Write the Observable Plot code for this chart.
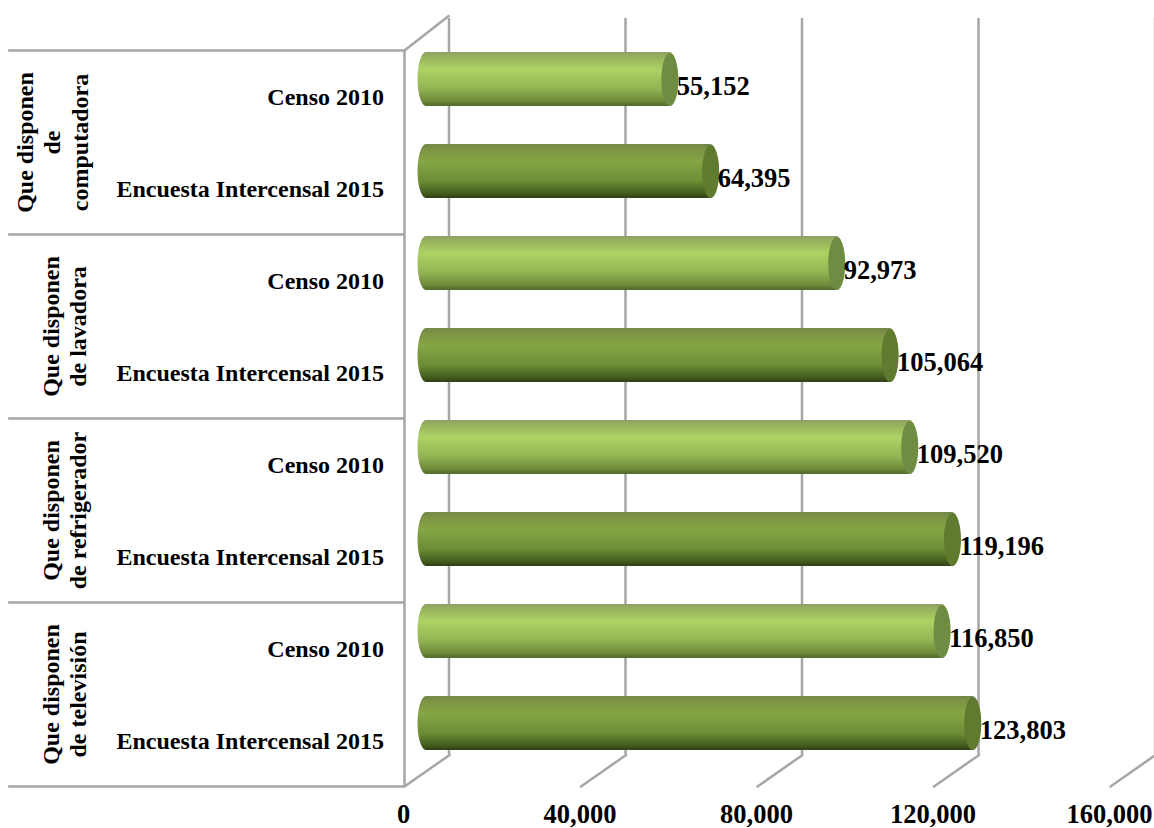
<!DOCTYPE html>
<html>
<head>
<meta charset="utf-8">
<script src="https://cdn.jsdelivr.net/npm/d3@7"></script>
<script src="https://cdn.jsdelivr.net/npm/@observablehq/plot@0.6"></script>
<style>html,body{margin:0;padding:0;background:#fff}svg{display:block}</style>
</head>
<body>
<script>
const groups = ["Que disponen\nde\ncomputadora", "Que disponen\nde lavadora", "Que disponen\nde refrigerador", "Que disponen\nde televisión"];
const seriesNames = ["Censo 2010", "Encuesta Intercensal 2015"];
const censo = [55152, 92973, 109520, 116850];
const encuesta = [64395, 105064, 119196, 123803];
const xTicks = [0, 40000, 80000, 120000, 160000];
const groupLabelOffsets = [51, 63, 63, 63];

const rows = groups.flatMap((g, i) => [
  {row: `${i}-0`, group: g, series: seriesNames[0], value: censo[i], kind: 0},
  {row: `${i}-1`, group: g, series: seriesNames[1], value: encuesta[i], kind: 1}
]);
const groupRows = rows.filter(d => d.kind === 0);

const font = {fontFamily: "'Liberation Serif','Times New Roman',serif", fontWeight: "bold", fill: "#000"};
const line = {draw(c, l) { c.moveTo(0, 0); c.lineTo(0, -l); }};
const grey = "#a6a6a6";
const depthX = 22, depthY = -17;

function ellipseSymbol(rx, ry) {
  const k = 0.5523;
  return {draw(c) {
    c.moveTo(-rx, 0);
    c.bezierCurveTo(-rx, -ry * k, -rx * k, -ry, 0, -ry);
    c.bezierCurveTo(rx * k, -ry, rx, -ry * k, rx, 0);
    c.bezierCurveTo(rx, ry * k, rx * k, ry, 0, ry);
    c.bezierCurveTo(-rx * k, ry, -rx, ry * k, -rx, 0);
    c.closePath();
  }};
}

function gradient(defs, id, stops) {
  const g = defs.append("linearGradient").attr("id", id)
    .attr("x1", 0).attr("y1", 0).attr("x2", 0).attr("y2", 1);
  stops.forEach(([o, col]) => g.append("stop").attr("offset", o).attr("stop-color", col));
}
const defsMark = () => {
  const defs = d3.create("svg:defs");
  gradient(defs, "light", [[0, "#8f9f68"], [0.06, "#93ad5c"], [0.32, "#aed264"], [0.68, "#93b353"], [0.9, "#6f8a3a"], [1, "#55682e"]]);
  gradient(defs, "dark", [[0, "#74844f"], [0.06, "#7a9145"], [0.32, "#86a545"], [0.68, "#6f8e36"], [0.9, "#46601f"], [1, "#2f3f16"]]);
  return defs.node();
};

const barOpts = {
  x1: () => 0, x2: "value", y: "row", dx: depthX, dy: depthY,
  insetLeft: -8.5, insetRight: -8.5, rx: 8.5, ry: 27
};

const chart = Plot.plot({
  width: 1154, height: 828,
  marginLeft: 404, marginRight: 44, marginTop: 50, marginBottom: 42,
  style: {background: "#fff", overflow: "visible"},
  x: {domain: [0, 160000]},
  y: {type: "band", domain: rows.map(d => d.row), paddingInner: 0.413, paddingOuter: 0.2065, axis: null},
  marks: [
    defsMark,
    Plot.ruleX(xTicks, {dx: 44.5, dy: -32, stroke: grey, strokeWidth: 2.5}),
    Plot.vector(xTicks, {x: d => d, frameAnchor: "bottom", anchor: "start", rotate: 55, length: 55, shape: line, stroke: grey, strokeWidth: 2.5}),
    Plot.vector([0], {x: d => d, frameAnchor: "top", anchor: "start", rotate: 52, length: 56, shape: line, stroke: grey, strokeWidth: 2.5}),
    Plot.ruleX([0], {stroke: grey, strokeWidth: 2.5}),
    Plot.ruleY(groupRows, {y: "row", dy: -46, x1: () => -89700, x2: () => 0, stroke: grey, strokeWidth: 2.5}),
    Plot.ruleY(rows.slice(-1), {y: "row", dy: 46, x1: () => -89700, x2: () => 0, stroke: grey, strokeWidth: 2.5}),
    Plot.barX(rows.filter(d => d.kind === 0), {...barOpts, fill: "url(#light)"}),
    Plot.barX(rows.filter(d => d.kind === 1), {...barOpts, fill: "url(#dark)"}),
    Plot.dot(rows, {x: "value", y: "row", dx: depthX, dy: depthY, symbol: ellipseSymbol(8.5, 26.5), r: 8,
      fill: d => d.kind === 0 ? "#6f8d42" : "#607b30"}),
    Plot.text(rows, {...font, x: "value", y: "row", text: d => d3.format(",")(d.value), textAnchor: "start", dx: 29, dy: -9.5, fontSize: 26.5}),
    Plot.text(rows, {...font, x: () => 0, y: "row", text: "series", textAnchor: "end", dx: -20.5, dy: 0.5, fontSize: 24}),
    ...groupRows.map((d, i) => Plot.text([d], {...font, frameAnchor: "left", textAnchor: "middle", dx: groupLabelOffsets[i] - 404, y: "row", dy: 46, text: "group", rotate: -90, fontSize: 24, lineHeight: 1.15})),
    Plot.axisX({ticks: xTicks, tickFormat: d => d3.format(",")(d), tickSize: 0, tickPadding: 18, dx: -1, label: null, anchor: "bottom", fontSize: 26.5, fontFamily: font.fontFamily, fontWeight: "bold", fill: "#000"})
  ]
});
document.body.appendChild(chart);
</script>
</body>
</html>
